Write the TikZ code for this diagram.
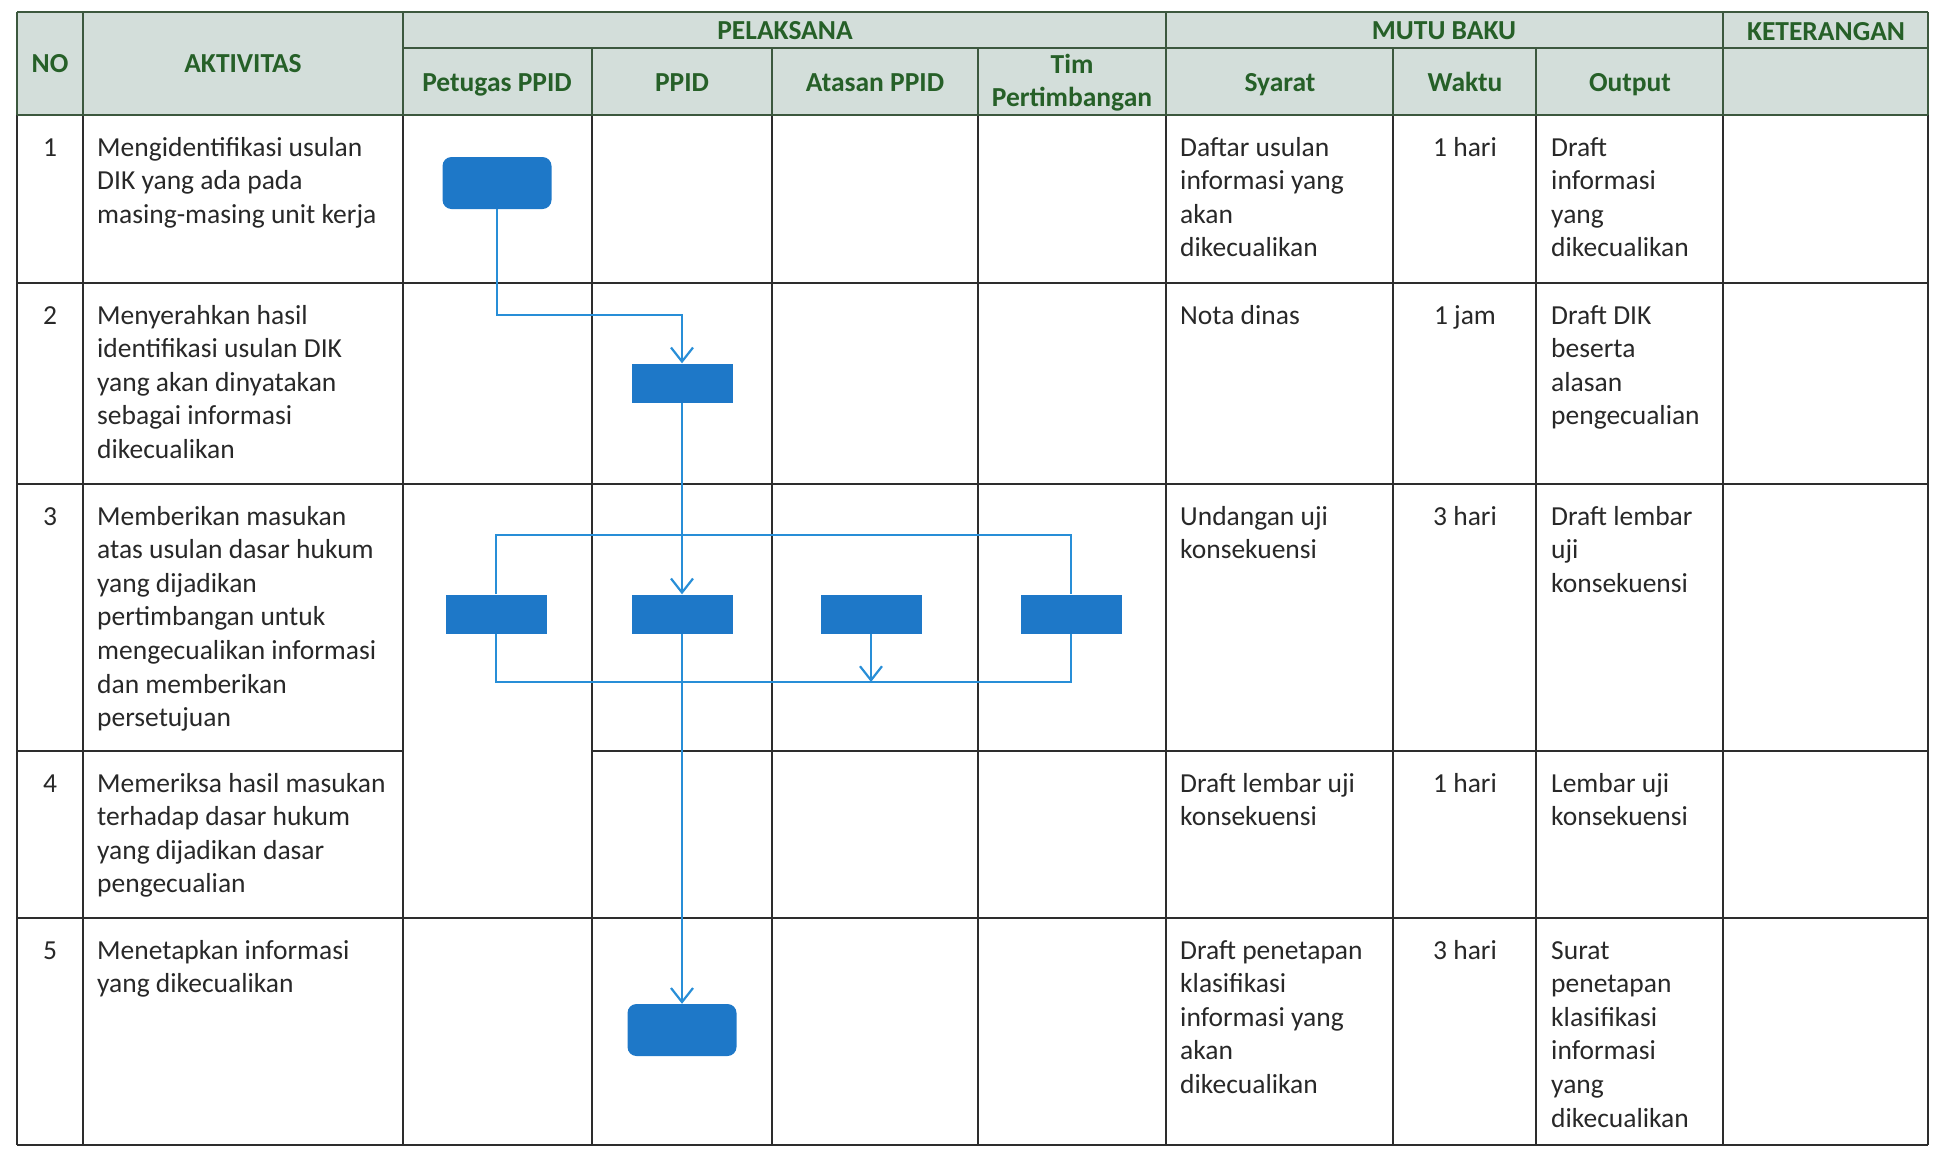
\documentclass[tikz,border=0pt]{standalone}
\usepackage{fontspec}
\setmainfont{Carlito}
\usetikzlibrary{arrows.meta,calc}
\definecolor{hdrfill}{RGB}{211,222,218}
\definecolor{hdrtext}{RGB}{38,96,40}
\definecolor{hdrline}{RGB}{60,88,62}
\definecolor{gridline}{RGB}{45,45,45}
\definecolor{boxblue}{RGB}{30,120,200}
\definecolor{flowblue}{RGB}{40,142,215}
\definecolor{bodytext}{RGB}{40,40,40}
\newcommand\celltxt[1]{\begin{tabular}[t]{@{}l@{}}#1\end{tabular}}
\newcommand\hdrtxt[1]{\begin{tabular}[t]{@{}c@{}}#1\end{tabular}}
\begin{document}
\begin{tikzpicture}[x=1pt,y=-1pt,
  grid/.style={draw=gridline,line width=1.6pt},
  hgrid/.style={draw=hdrline,line width=1.6pt},
  hdr/.style={font=\fontsize{27.5}{33}\selectfont\bfseries,text=hdrtext,inner sep=0pt,anchor=base},
  cell/.style={font=\fontsize{27.5}{33.6}\selectfont,text=bodytext,inner sep=0pt,anchor=base west},
  num/.style={font=\fontsize{27.5}{33.6}\selectfont,text=bodytext,inner sep=0pt,anchor=base},
  task/.style={fill=boxblue,draw=none,minimum width=101pt,minimum height=39pt,inner sep=0pt},
  term/.style={task,rounded corners=9pt,minimum width=109pt,minimum height=52pt},
  flow/.style={draw=flowblue,line width=2pt},
  arr/.style={flow,-{Straight Barb[length=14pt,width=22pt,line width=2.2pt]}}
]
\useasboundingbox (0,0) rectangle (1935,1152);
\fill[hdrfill] (17,12) rectangle (1928,115);

% body grid
\foreach \x in {17,83,403,592,772,978,1166,1393,1536,1723,1928} \draw[grid] (\x,115) -- (\x,1145);
\foreach \y in {283,484,918,1145} \draw[grid] (17,\y) -- (1928,\y);
\draw[grid] (17,751) -- (403,751);
\draw[grid] (592,751) -- (1928,751);

% header grid
\draw[hgrid] (17,12) -- (1928,12);
\draw[hgrid] (403,48) -- (1928,48);
\draw[hgrid] (17,115) -- (1928,115);
\foreach \x in {17,83,403,1166,1723,1928} \draw[hgrid] (\x,12) -- (\x,115);
\foreach \x in {592,772,978,1393,1536} \draw[hgrid] (\x,48) -- (\x,115);

% header texts
\node[hdr] (hno) at (50,72) {NO};
\node[hdr] (hakt) at (243,72) {AKTIVITAS};
\node[hdr] (hpel) at (785,39) {PELAKSANA};
\node[hdr] (hmutu) at (1444,39) {MUTU BAKU};
\node[hdr] (hket) at (1826,40) {KETERANGAN};
\node[hdr] (hpet) at (497,91) {Petugas PPID};
\node[hdr] (hppid) at (682,91) {PPID};
\node[hdr] (hatas) at (875,91) {Atasan PPID};
\node[hdr] (htim) at (1072,73) {\hdrtxt{Tim\\Pertimbangan}};
\node[hdr] (hsya) at (1280,91) {Syarat};
\node[hdr] (hwak) at (1465,91) {Waktu};
\node[hdr] (hout) at (1630,91) {Output};

% row 1
\node[num] (n1) at (50,156) {1};
\node[cell] (a1) at (97,156) {\celltxt{Mengidentifikasi usulan\\DIK yang ada pada\\masing-masing unit kerja}};
\node[cell] (s1) at (1180,156) {\celltxt{Daftar usulan\\informasi yang\\akan\\dikecualikan}};
\node[num] (w1) at (1465,156) {1 hari};
\node[cell] (o1) at (1551,156) {\celltxt{Draft\\informasi\\yang\\dikecualikan}};

% row 2
\node[num] (n2) at (50,324) {2};
\node[cell] (a2) at (97,324) {\celltxt{Menyerahkan hasil\\identifikasi usulan DIK\\yang akan dinyatakan\\sebagai informasi\\dikecualikan}};
\node[cell] (s2) at (1180,324) {Nota dinas};
\node[num] (w2) at (1465,324) {1 jam};
\node[cell] (o2) at (1551,324) {\celltxt{Draft DIK\\beserta\\alasan\\pengecualian}};

% row 3
\node[num] (n3) at (50,525) {3};
\node[cell] (a3) at (97,525) {\celltxt{Memberikan masukan\\atas usulan dasar hukum\\yang dijadikan\\pertimbangan untuk\\mengecualikan informasi\\dan memberikan\\persetujuan}};
\node[cell] (s3) at (1180,525) {\celltxt{Undangan uji\\konsekuensi}};
\node[num] (w3) at (1465,525) {3 hari};
\node[cell] (o3) at (1551,525) {\celltxt{Draft lembar\\uji\\konsekuensi}};

% row 4
\node[num] (n4) at (50,792) {4};
\node[cell] (a4) at (97,792) {\celltxt{Memeriksa hasil masukan\\terhadap dasar hukum\\yang dijadikan dasar\\pengecualian}};
\node[cell] (s4) at (1180,792) {\celltxt{Draft lembar uji\\konsekuensi}};
\node[num] (w4) at (1465,792) {1 hari};
\node[cell] (o4) at (1551,792) {\celltxt{Lembar uji\\konsekuensi}};

% row 5
\node[num] (n5) at (50,959) {5};
\node[cell] (a5) at (97,959) {\celltxt{Menetapkan informasi\\yang dikecualikan}};
\node[cell] (s5) at (1180,959) {\celltxt{Draft penetapan\\klasifikasi\\informasi yang\\akan\\dikecualikan}};
\node[num] (w5) at (1465,959) {3 hari};
\node[cell] (o5) at (1551,959) {\celltxt{Surat\\penetapan\\klasifikasi\\informasi\\yang\\dikecualikan}};

% flow shapes
\node[term] (b1) at (497,183) {};
\node[task] (b2) at (682,383) {};
\node[task] (b3a) at (496,614) {};
\node[task] (b3b) at (682,614) {};
\node[task] (b3c) at (871,614) {};
\node[task] (b3d) at (1071,614) {};
\node[term] (b5) at (682,1030) {};

\coordinate (e12) at (682,315);
\coordinate (lt) at (682,535);
\coordinate (lb) at (682,682);

% connectors
\draw[arr] (b1.south) |- (e12) -- (b2.north);
\draw[flow] (b3a.north) |- (lt) -| (b3d.north);
\draw[flow] (b3a.south) |- (lb) -| (b3d.south);
\draw[arr] (b2.south) -- (b3b.north);
\draw[arr] (b3c.south) -- (b3c.south |- lb);
\draw[arr] (b3b.south) -- (b5.north);
\end{tikzpicture}
\end{document}
